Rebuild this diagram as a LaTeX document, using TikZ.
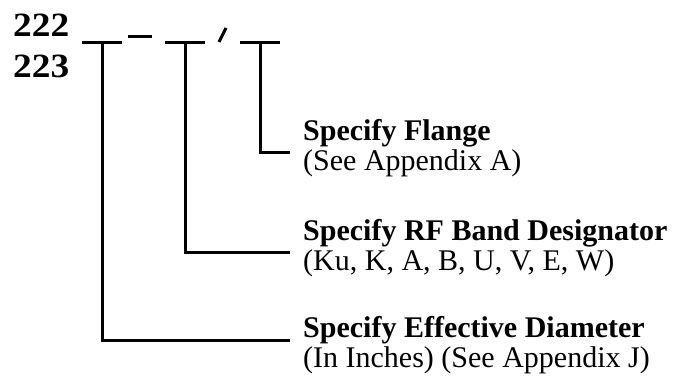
\documentclass[tikz,border=0pt]{standalone}
\usepackage{fontspec}
\setmainfont{Liberation Serif}
\begin{document}
\begin{tikzpicture}[x=1pt,y=-1pt,
  rule/.style={line width=3pt,line cap=butt},
  lead/.style={line width=3pt,line join=miter},
  title/.style={anchor=base west,inner sep=0pt,font=\fontsize{30}{30}\selectfont\bfseries},
  note/.style={anchor=base west,inner sep=0pt,font=\fontsize{30}{30}\selectfont},
  code/.style={anchor=base west,inner sep=0pt,xscale=1.1,font=\fontsize{34}{34}\selectfont\bfseries}]
\useasboundingbox (0,0) rectangle (691,377);

% model numbers
\node[code] (m1) at (13,37) {222};
\node[code] (m2) at (13,78) {223};

% blanks to fill in
\coordinate (d1) at (102,43);
\coordinate (d2) at (185,43);
\coordinate (d3) at (260,43);
\draw[rule] (82,43) -- (122,43);
\draw[rule] (165,43) -- (205,43);
\draw[rule] (240,43) -- (280,43);

% separators
\draw[rule] (128,37) -- (152,37);
\draw[rule] (219,42) -- (226,28);

% descriptions
\node[title] (t1) at (303,141) {Specify Flange};
\node[note]  (n1) at (303,171) {(See Appendix A)};
\node[title] (t2) at (303,240) {Specify RF Band Designator};
\node[note]  (n2) at (303,270) {(Ku, K, A, B, U, V, E, W)};
\node[title] (t3) at (303,337) {Specify Effective Diameter};
\node[note]  (n3) at (303,367) {(In Inches) (See Appendix J)};

% leaders from each blank to its description
\coordinate (e1) at (290,153);
\coordinate (e2) at (290,252);
\coordinate (e3) at (290,340);
\draw[lead] (d3) |- (e1);
\draw[lead] (d2) |- (e2);
\draw[lead] (d1) |- (e3);
\end{tikzpicture}
\end{document}
